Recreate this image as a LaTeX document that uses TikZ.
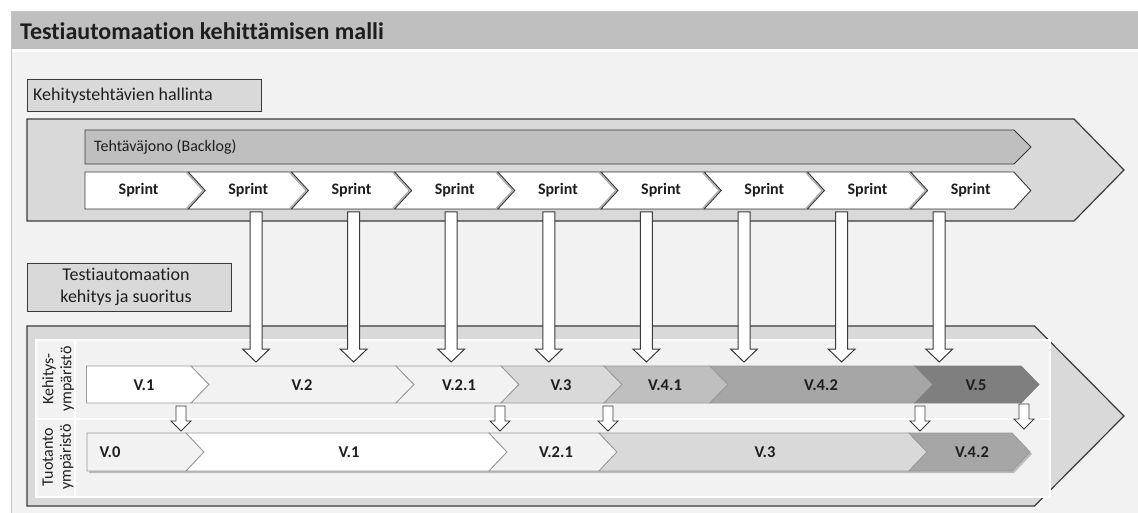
\documentclass[tikz,border=0pt]{standalone}
\usepackage{fontspec}
\setmainfont{Carlito}[Ligatures=NoCommon]
\usetikzlibrary{calc}
\definecolor{pagebg}{HTML}{F2F2F2}
\definecolor{titlebar}{HTML}{BFBFBF}
\definecolor{cD9}{HTML}{D9D9D9}
\definecolor{cBF}{HTML}{BFBFBF}
\definecolor{cA6}{HTML}{A6A6A6}
\definecolor{c7F}{HTML}{7F7F7F}
\definecolor{cF2}{HTML}{F2F2F2}
\definecolor{dk}{HTML}{3A3A3A}
\definecolor{edge}{HTML}{9A9A9A}
\definecolor{txt}{HTML}{1E1E1E}
\newcommand\mychev[7]{% style, xl, xr, yt, yb, depth, notch(0/1)
  \pgfmathsetmacro\cvYm{(#4+#5)/2}%
  \pgfmathsetmacro\cvXt{#3+#6}%
  \pgfmathsetmacro\cvXn{#2+#6*#7}%
  \path[#1] (#2,#4) -- (#3,#4) -- (\cvXt,\cvYm) -- (#3,#5) -- (#2,#5) -- (\cvXn,\cvYm) -- cycle;%
}
\newcommand\myblockarrow[7]{% x, ytop, yhead, ytip, shaft half, head half, style
  \path[#7] (#1-#5,#2) -- (#1+#5,#2) -- (#1+#5,#3) -- (#1+#6,#3) -- (#1,#4) -- (#1-#6,#3) -- (#1-#5,#3) -- cycle;%
}
\begin{document}
\begin{tikzpicture}[x=1pt,y=-1pt,
  bigchev/.style={fill=cD9,draw=dk,line width=1.2pt,line join=miter},
  labelbox/.style={fill=cD9,draw=dk,line width=1pt},
  sprintch/.style={fill=white,draw=dk,line width=0.9pt},
  sprintsh/.style={fill=gray!55,draw=gray!70,line width=0.6pt},
  bigarrow/.style={fill=white,draw=dk,line width=1pt},
  smallarrow/.style={fill=white,draw=dk,line width=0.9pt},
  vch/.style={draw=edge,line width=0.8pt},
  vshadow/.style={fill=black,opacity=0.22},
  sprinttxt/.style={font=\fontsize{16}{19}\selectfont\bfseries,text=txt},
  vtxt/.style={font=\fontsize{16.5}{19}\selectfont\bfseries,text=txt},
  sidetxt/.style={font=\fontsize{16}{18}\selectfont,text=txt,align=center,rotate=90}
]
\useasboundingbox (0,0) rectangle (1138,513);
\fill[white] (0,0) rectangle (1138,513);
% page frame
\fill[pagebg] (11,11) rectangle (1138,513);
\draw[gray!45,line width=0.8pt] (11,513) -- (11,11) -- (1138,11);
\fill[titlebar] (11.5,12) rectangle (1138,49);
\fill[white] (11.5,49) rectangle (1138,52);
\node[anchor=west,font=\fontsize{24}{27}\selectfont\bfseries,text=txt,inner sep=0] (title) at (20,31) {Testiautomaation kehittämisen malli};

% upper section
\node[labelbox,anchor=north west,minimum width=234pt,minimum height=32pt,inner sep=0] (kbox) at (27,79) {};
\node[anchor=west,font=\fontsize{18}{20}\selectfont,text=txt,inner sep=0] (ktxt) at (33,96) {Kehitystehtävien hallinta};
\path[bigchev] (27,119) -- (1074,119) -- (1124,170) -- (1074,221) -- (27,221) -- cycle;
\mychev{fill=cBF,draw=dk,line width=0.9pt}{85}{1014}{130}{164}{17}{0}
\node[anchor=west,font=\fontsize{16}{18}\selectfont,text=txt,inner sep=0] (backlog) at (94,147) {Tehtäväjono (Backlog)};

% sprints
\foreach \i in {0,...,8} {
  \pgfmathsetmacro\xl{85+103.2*\i}
  \pgfmathsetmacro\xr{85+103.2*(\i+1)}
  \pgfmathtruncatemacro\nt{\i>0 ? 1 : 0}
  \ifnum\nt=1
    \mychev{sprintsh}{\xl-2.5}{\xr-2.5}{172}{209}{17}{1}
  \fi
  \mychev{sprintch}{\xl}{\xr}{172}{209}{17}{\nt}
  \pgfmathsetmacro\xc{(\xl+\xr)/2+(\i>0 ? 8.5 : 2)}
  \node[sprinttxt] (sprint\i) at (\xc,190.5) {Sprint};
}

% lower section
\node[labelbox,anchor=north west,minimum width=204pt,minimum height=48pt,inner sep=0] (tbox) at (27,263) {};
\node[font=\fontsize{18}{22}\selectfont,text=txt,align=center,inner sep=0] (ttxt) at (126,287) {Testiautomaation\\kehitys ja suoritus};
\path[bigchev] (27,326) -- (1034.5,326) -- (1124,416) -- (1034.5,506) -- (27,506) -- cycle;
\path[fill=cF2,draw=white,line width=1.5pt] (36,340) rectangle (1050,497);
\draw[white,line width=2pt] (36,419) -- (1050,419);
\draw[white,line width=1.5pt] (75,340) -- (75,497);
\node[sidetxt] (kehlab) at (58,379) {Kehitys-\\ympäristö};
\node[sidetxt] (tuolab) at (58,457) {Tuotanto\\ympäristö};

% big arrows
\foreach \i in {0,...,7} {
  \pgfmathsetmacro\xa{256+97.6*\i}
  \myblockarrow{\xa}{212}{349}{362}{6}{13.5}{bigarrow}
}

% row 1 (Kehitysympäristö)
\mychev{vch,fill=white}{86.5}{191}{366}{403}{18}{0}
\mychev{vch,fill=cF2}{191}{396}{366}{403}{18}{1}
\mychev{vch,fill=cF2}{396}{501}{366}{403}{18}{1}
\mychev{vch,fill=cD9}{501}{604}{366}{403}{18}{1}
\mychev{vch,fill=cBF}{604}{710}{366}{403}{18}{1}
\mychev{vch,fill=cA6}{710}{915}{366}{403}{18}{1}
\mychev{draw=c7F,line width=0.8pt,fill=c7F}{915}{1021}{366}{403}{18}{1}
\node[vtxt] (k1) at (144,385) {V.1};
\node[vtxt] (k2) at (302,385) {V.2};
\node[vtxt] (k21) at (459,385) {V.2.1};
\node[vtxt] (k3) at (561,385) {V.3};
\node[vtxt] (k41) at (665,385) {V.4.1};
\node[vtxt] (k42) at (821,385) {V.4.2};
\node[vtxt] (k5) at (976,385) {V.5};

% row 2 (Tuotantoympäristö)
\mychev{vshadow}{89}{188}{435}{473}{18}{0}
\mychev{vch,fill=cF2}{87}{186}{433}{471}{18}{0}
\mychev{vshadow}{188}{491}{435}{473}{18}{1}
\mychev{vch,fill=white}{186}{489}{433}{471}{18}{1}
\mychev{vshadow}{491}{601}{435}{473}{18}{1}
\mychev{vch,fill=cF2}{489}{599}{433}{471}{18}{1}
\mychev{vshadow}{601}{911}{435}{473}{18}{1}
\mychev{vch,fill=cD9}{599}{909}{433}{471}{18}{1}
\mychev{vshadow}{911}{1014}{435}{473}{18}{1}
\mychev{vch,fill=cA6}{909}{1012}{433}{471}{18}{1}
\node[vtxt,anchor=west] (t0) at (96,452) {V.0};
\node[vtxt] (t1) at (349,452) {V.1};
\node[vtxt] (t21) at (556,452) {V.2.1};
\node[vtxt] (t3) at (765,452) {V.3};
\node[vtxt] (t42) at (972,452) {V.4.2};

% small arrows
\foreach \xs in {181,500,608,920} {
  \myblockarrow{\xs}{406}{421}{431}{5}{10}{smallarrow}
}
\myblockarrow{1024}{404}{419}{429}{5}{10}{smallarrow}
\end{tikzpicture}
\end{document}
